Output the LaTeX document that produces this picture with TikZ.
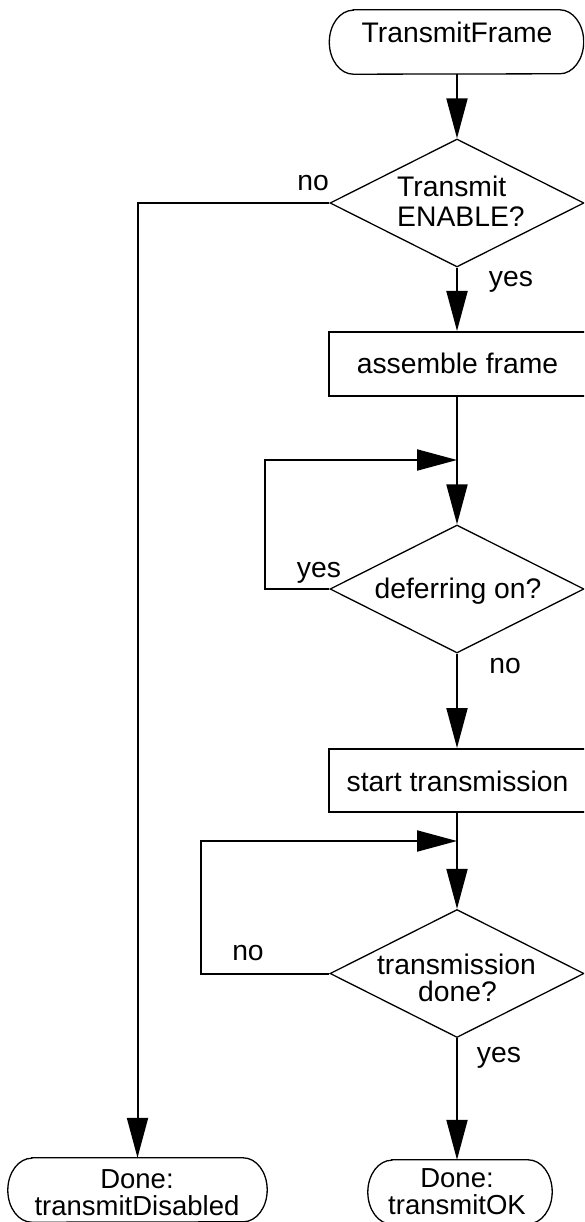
\documentclass[tikz,border=0pt]{standalone}
\usepackage{fontspec}
\setmainfont{Liberation Sans}
\usetikzlibrary{arrows.meta,shapes.geometric}
\begin{document}
\begin{tikzpicture}[x=1pt,y=1pt,
  conn/.style={line width=2pt, -{Triangle[length=40pt,width=21pt]}},
  plain/.style={line width=2pt},
  dia/.style={draw, diamond, line width=1.3pt, minimum width=254pt, minimum height=128pt, inner sep=0pt},
  boxnode/.style={draw, line width=2pt, minimum width=258pt, minimum height=64pt, inner sep=0pt},
  termnode/.style={minimum height=64pt, inner sep=0pt},
  termline/.style={line width=1.3pt},
  txt/.style={font=\fontsize{28.3}{30}\selectfont, anchor=base, inner sep=0pt},
  txttwo/.style={font=\fontsize{27.5}{26.5}\selectfont, anchor=base, inner sep=0pt, align=center},
]
\useasboundingbox (0,0) rectangle (584,-1222);
\clip (0,0) rectangle (584,-1222);
% nodes
\node[termnode, minimum width=254pt] (tf) at (456.5,-42) {};
\node[dia] (d1) at (457,-203) {};
\node[boxnode] (r1) at (458,-364) {};
\coordinate (j1) at (457,-460);
\coordinate (l1) at (265,-460);
\node[dia] (d2) at (457,-589) {};
\node[boxnode, minimum height=63pt] (r2) at (458,-780.5) {};
\coordinate (j2) at (457,-841);
\coordinate (l2) at (201,-841);
\node[dia] (d3) at (457,-973.5) {};
\node[termnode, minimum width=259pt] (dl) at (137.5,-1190) {};
\node[termnode, minimum width=184pt] (dr) at (460,-1192) {};
% terminal outlines
\foreach \t in {tf,dl,dr}{
  \draw[termline] ([xshift=24pt]\t.north west) -- ([xshift=-24pt]\t.north east)
    arc[start angle=90,end angle=-90,x radius=24pt,y radius=32pt]
    -- ([xshift=24pt]\t.south west)
    arc[start angle=270,end angle=90,x radius=24pt,y radius=32pt] -- cycle;
}
% texts
\node[txt] (ttf) at (457,-43) {TransmitFrame};
\node[txt, anchor=base west] (td1a) at (397,-197) {Transmit};
\node[txt, anchor=base west] (td1b) at (397,-227) {ENABLE?};
\node[txt] (tr1) at (457.5,-373) {assemble frame};
\node[txt] (td2) at (458,-598) {deferring on?};
\node[txt] (tr2) at (457.5,-791) {start transmission};
\node[txt] (td3a) at (456.5,-974) {transmission};
\node[txt] (td3b) at (457.5,-1001) {done?};
\node[txttwo] (tdl) at (137,-1215) {Done:\\transmitDisabled};
\node[txttwo] (tdr) at (457,-1214) {Done:\\transmitOK};
% labels
\node[txt] (no1) at (313,-191) {no};
\node[txt] (yes1) at (511,-287) {yes};
\node[txt] (yes2) at (319,-577) {yes};
\node[txt] (no2) at (505,-673) {no};
\node[txt] (no3) at (248,-960) {no};
\node[txt] (yes3) at (499,-1062) {yes};
% connectors
\draw[conn] (tf.south -| d1.north) -- (d1.north);
\draw[conn] (d1.south) -- (d1.south |- r1.north);
\draw[conn] (d1.west) -| (dl.north);
\draw[plain] (r1.south -| j1) -- (j1);
\draw[conn] (j1) -- (d2.north);
\draw[conn] (d2.west) -| (l1) -- (j1);
\draw[conn] (d2.south) -- (d2.south |- r2.north);
\draw[plain] (r2.south -| j2) -- (j2);
\draw[conn] (j2) -- (d3.north);
\draw[conn] (d3.west) -| (l2) -- (j2);
\draw[conn] (d3.south) -- (d3.south |- dr.north);
\end{tikzpicture}
\end{document}
